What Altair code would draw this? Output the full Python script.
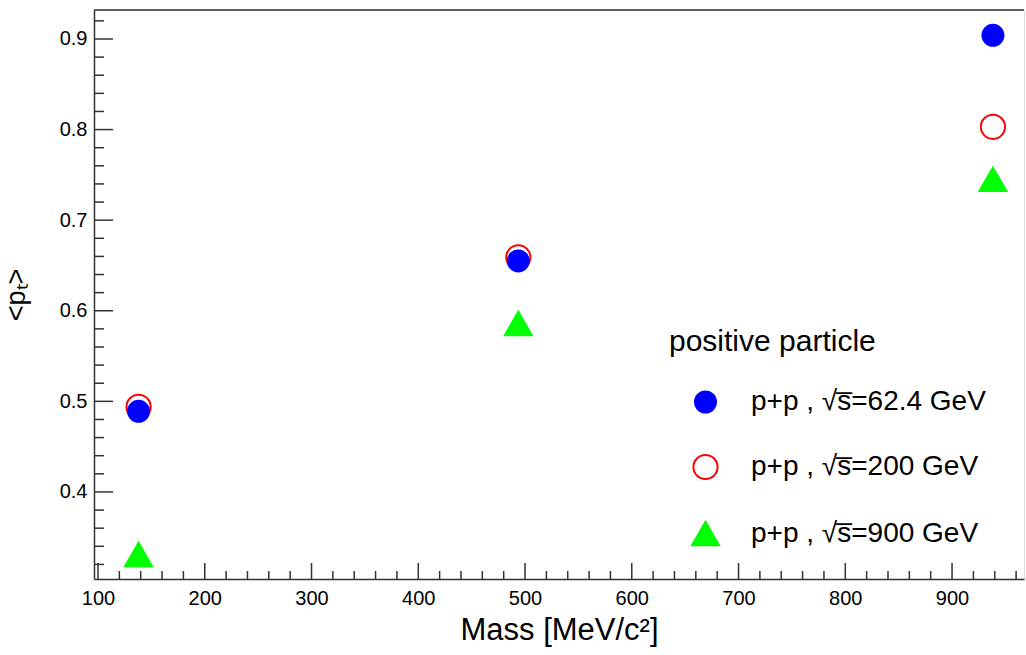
import altair as alt
import pandas as pd

# ---- data ----
mass = [138.0, 493.7, 938.3]                 # MeV/c^2 (pi, K, p)
pt_62 = [0.489, 0.655, 0.904]                # p+p sqrt(s)=62.4 GeV
pt_200 = [0.494, 0.659, 0.803]               # p+p sqrt(s)=200 GeV
pt_900 = [0.331, 0.586, 0.745]               # p+p sqrt(s)=900 GeV
series = ["p+p , √s̅=62.4 GeV", "p+p , √s̅=200 GeV", "p+p , √s̅=900 GeV"]

x_major = [100, 200, 300, 400, 500, 600, 700, 800, 900]
x_minor = [v for v in range(100, 961, 20) if v % 100 != 0]
y_major = [0.4, 0.5, 0.6, 0.7, 0.8, 0.9]
y_minor = [round(0.32 + 0.02 * i, 2) for i in range(31)]
y_minor = [v for v in y_minor if round(v * 10, 6) != round(v * 10)]

X_DOMAIN = [96.25, 967.4]
Y_DOMAIN = [0.3039, 0.932]
W, H = 930, 569
FONT = "Liberation Sans"
AX = "#333333"

# draw order: red ring first, blue on top, then green
rows = []
for m, v in zip(mass, pt_200):
    rows.append({"mass": m, "pt": v, "series": series[1]})
for m, v in zip(mass, pt_62):
    rows.append({"mass": m, "pt": v, "series": series[0]})
for m, v in zip(mass, pt_900):
    rows.append({"mass": m, "pt": v, "series": series[2]})
df = pd.DataFrame(rows)

xs = alt.Scale(domain=X_DOMAIN, nice=False, zero=False)
ys = alt.Scale(domain=Y_DOMAIN, nice=False, zero=False)

leg = alt.Legend(
    title="positive particle", orient="none", legendX=575, legendY=317,
    titleFont=FONT, titleFontSize=30, titleFontWeight="normal", titleColor="black",
    titlePadding=31, titleLimit=600, labelLimit=600,
    labelFont=FONT, labelFontSize=28, labelColor="black",
    symbolOffset=22, labelOffset=31, rowPadding=33, padding=0,
    symbolStrokeWidth=2, symbolType="circle",
)

points = alt.Chart(df).mark_point(filled=False, strokeWidth=2, opacity=1).encode(
    x=alt.X("mass:Q", scale=xs, axis=alt.Axis(
        title="Mass [MeV/c²]", values=x_major, tickSize=0, labelPadding=9,
        labelFlush=False, labelFont=FONT, labelFontSize=20, labelColor="black",
        titleFont=FONT, titleFontSize=31, titleFontWeight="normal", titleColor="black",
        titlePadding=7, domainColor=AX, domainWidth=1.5, grid=False)),
    y=alt.Y("pt:Q", scale=ys, axis=alt.Axis(
        title="<pₜ>", values=y_major, format=".1f", tickSize=0, labelPadding=7,
        labelFlush=False, labelFont=FONT, labelFontSize=20, labelColor="black",
        titleFont=FONT, titleFontSize=27, titleFontWeight="normal", titleColor="black",
        titlePadding=29, domainColor=AX, domainWidth=1.5, grid=False)),
    shape=alt.Shape("series:N", scale=alt.Scale(domain=series, range=["circle", "circle", "triangle-up"]), legend=leg),
    fill=alt.Fill("series:N", scale=alt.Scale(domain=series, range=["#0000ff", "transparent", "#00ff00"]), legend=leg),
    stroke=alt.Stroke("series:N", scale=alt.Scale(domain=series, range=["#0000ff", "#ff0000", "#00ff00"]), legend=leg),
    size=alt.Size("series:N", scale=alt.Scale(domain=series, range=[441, 729, 650]), legend=leg),
)

tx_major = alt.Chart(pd.DataFrame({"mass": x_major})).mark_rule(color=AX, strokeWidth=1.5).encode(
    x=alt.X("mass:Q", scale=xs), y=alt.value(H), y2=alt.value(H - 16))
tx_minor = alt.Chart(pd.DataFrame({"mass": x_minor})).mark_rule(color=AX, strokeWidth=1.5).encode(
    x=alt.X("mass:Q", scale=xs), y=alt.value(H), y2=alt.value(H - 8))
ty_major = alt.Chart(pd.DataFrame({"pt": y_major})).mark_rule(color=AX, strokeWidth=1.5).encode(
    y=alt.Y("pt:Q", scale=ys), x=alt.value(0), x2=alt.value(19))
ty_minor = alt.Chart(pd.DataFrame({"pt": y_minor})).mark_rule(color=AX, strokeWidth=1.5).encode(
    y=alt.Y("pt:Q", scale=ys), x=alt.value(0), x2=alt.value(10))
top = alt.Chart(pd.DataFrame({"a": [0]})).mark_rule(color=AX, strokeWidth=1.5).encode(
    x=alt.value(0), x2=alt.value(W), y=alt.value(0))

chart = alt.layer(tx_major, tx_minor, ty_major, ty_minor, top, points).properties(
    width=W, height=H,
    autosize=alt.AutoSizeParams(type="none"),
    padding={"left": 94, "top": 10, "right": 2, "bottom": 76},
).configure_view(stroke=None).configure(background="white")

chart.save("out.html", embed_options={"renderer": "svg", "actions": False})
